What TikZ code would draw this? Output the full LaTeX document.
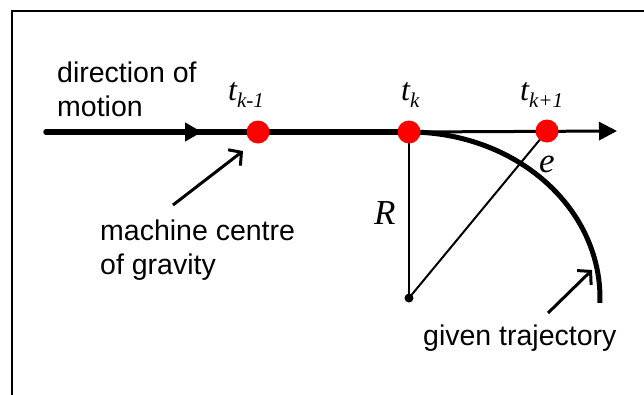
\documentclass[tikz,border=0pt]{standalone}
\usepackage{fontspec}
\setmainfont{Liberation Sans}
\newfontfamily\tnr{Liberation Serif}
\usetikzlibrary{arrows.meta}
\begin{document}
\begin{tikzpicture}[x=1pt,y=1pt,
  reddot/.style={circle,fill=red,inner sep=0pt,minimum size=23pt},
  blackdot/.style={circle,fill=black,inner sep=0pt,minimum size=9pt},
  lbl/.style={font=\fontsize{28.5}{34}\selectfont,align=left,anchor=base west,inner sep=0pt},
  mlbl/.style={font=\tnr\itshape\fontsize{32}{32}\selectfont,anchor=base west,inner sep=0pt},
  vlbl/.style={font=\tnr\itshape\fontsize{35}{35}\selectfont,anchor=base west,inner sep=0pt},
  pointer/.style={line width=3pt,-{Straight Barb[length=9pt,width=20pt]}},
  thickline/.style={line width=5.5pt},
  thinline/.style={line width=3pt},
  radline/.style={line width=2pt},
]
\useasboundingbox (0,0) rectangle (644,-394);
\draw[line width=2.5pt] (12,-400) -- (12,-11) -- (650,-11);

\coordinate (S) at (46,-132);
\coordinate (M0) at (188,-132);
\coordinate (M) at (202,-132);
\coordinate (Pkm) at (258,-132);
\coordinate (Pk) at (409,-132);
\coordinate (Pkp) at (547,-131);
\coordinate (E) at (617,-131);
\coordinate (O) at (409,-298);

\draw[thickline, line cap=round, -{Triangle[length=17pt,width=18pt]}] (S) -- (M);
\draw[thickline] (M0) -- (Pk);
\draw[thinline, -{Triangle[length=18pt,width=18pt]}] (Pk) -- (E);

\draw[radline] (Pk) -- (O);
\draw[radline] (O) -- (Pkp);
\draw[line width=5pt] (Pk) arc[start angle=90, end angle=-1.7, x radius=191, y radius=166];

\node[reddot] (dkm) at (Pkm) {};
\node[reddot] (dk) at (Pk) {};
\node[reddot] (dkp) at (Pkp) {};
\node[blackdot] (dO) at (O) {};

\coordinate (a1) at (173,-205);
\coordinate (a1t) at (243,-151);
\draw[pointer] (a1) -- (a1t);
\coordinate (a2) at (548,-313);
\coordinate (a2t) at (592,-270);
\draw[pointer] (a2) -- (a2t);

\node[lbl] (dir) at (57,-116) {direction of\\motion};
\node[lbl] (mcg) at (100,-274) {machine centre\\of gravity};
\node[lbl] (gt) at (423,-345) {given trajectory};
\node[mlbl] (tkm) at (228,-100) {t\raisebox{-7pt}{\fontsize{21}{21}\selectfont k-1}};
\node[mlbl] (tk) at (401,-100) {t\raisebox{-7pt}{\fontsize{21}{21}\selectfont k}};
\node[mlbl] (tkp) at (520,-100) {t\raisebox{-7pt}{\fontsize{21}{21}\selectfont k+1}};
\node[vlbl] (R) at (374,-224) {R};
\node[vlbl] (e) at (539,-172) {e};
\end{tikzpicture}
\end{document}
